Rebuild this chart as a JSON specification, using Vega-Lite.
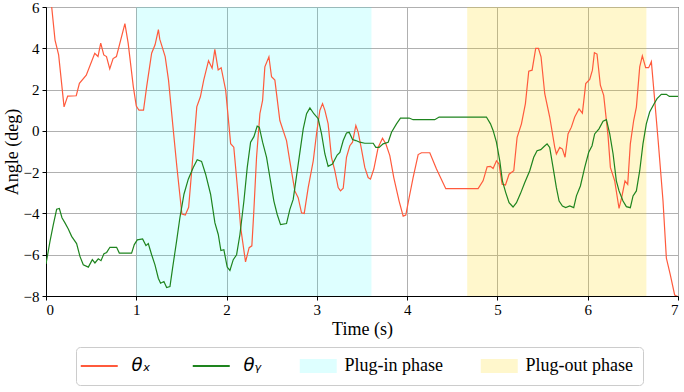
{
  "$schema": "https://vega.github.io/schema/vega-lite/v6.json",
  "width": 632,
  "height": 289,
  "autosize": "none",
  "padding": {"left": 46, "top": 7, "right": 6, "bottom": 96},
  "background": "white",
  "config": {
    "font": "Liberation Serif",
    "view": {"stroke": "black", "strokeWidth": 1},
    "axis": {
      "labelFont": "Liberation Serif", "labelFontSize": 15, "labelColor": "black",
      "titleFont": "Liberation Serif", "titleFontSize": 18, "titleFontWeight": "normal", "titleColor": "black",
      "domainColor": "black", "tickColor": "black", "tickSize": 4, "gridColor": "#b0b0b0", "gridWidth": 1
    }
  },
  "datasets": {
    "angles": [
      {"t":0,"angle":6.6,"series":"θₓ"},{"t":0.063,"angle":6.0,"series":"θₓ"},{"t":0.1,"angle":4.4,"series":"θₓ"},{"t":0.14,"angle":3.68,"series":"θₓ"},{"t":0.2,"angle":1.16,"series":"θₓ"},{"t":0.24,"angle":1.68,"series":"θₓ"},{"t":0.335,"angle":1.7,"series":"θₓ"},{"t":0.37,"angle":2.3,"series":"θₓ"},{"t":0.446,"angle":2.7,"series":"θₓ"},{"t":0.54,"angle":3.76,"series":"θₓ"},{"t":0.576,"angle":3.6,"series":"θₓ"},{"t":0.606,"angle":4.25,"series":"θₓ"},{"t":0.64,"angle":3.68,"series":"θₓ"},{"t":0.67,"angle":3.6,"series":"θₓ"},{"t":0.706,"angle":3.0,"series":"θₓ"},{"t":0.743,"angle":3.5,"series":"θₓ"},{"t":0.78,"angle":3.6,"series":"θₓ"},{"t":0.874,"angle":5.19,"series":"θₓ"},{"t":0.91,"angle":4.25,"series":"θₓ"},{"t":0.967,"angle":2.14,"series":"θₓ"},{"t":1.0,"angle":1.2,"series":"θₓ"},{"t":1.03,"angle":1.0,"series":"θₓ"},{"t":1.08,"angle":1.0,"series":"θₓ"},{"t":1.115,"angle":2.14,"series":"θₓ"},{"t":1.17,"angle":3.76,"series":"θₓ"},{"t":1.208,"angle":4.17,"series":"θₓ"},{"t":1.245,"angle":4.9,"series":"θₓ"},{"t":1.26,"angle":4.44,"series":"θₓ"},{"t":1.32,"angle":3.6,"series":"θₓ"},{"t":1.357,"angle":2.46,"series":"θₓ"},{"t":1.41,"angle":0.03,"series":"θₓ"},{"t":1.45,"angle":-1.76,"series":"θₓ"},{"t":1.505,"angle":-4.03,"series":"θₓ"},{"t":1.543,"angle":-4.08,"series":"θₓ"},{"t":1.58,"angle":-3.7,"series":"θₓ"},{"t":1.617,"angle":-1.76,"series":"θₓ"},{"t":1.67,"angle":1.16,"series":"θₓ"},{"t":1.71,"angle":1.65,"series":"θₓ"},{"t":1.747,"angle":2.46,"series":"θₓ"},{"t":1.8,"angle":3.4,"series":"θₓ"},{"t":1.84,"angle":3.03,"series":"θₓ"},{"t":1.87,"angle":3.95,"series":"θₓ"},{"t":1.907,"angle":2.95,"series":"θₓ"},{"t":1.94,"angle":3.06,"series":"θₓ"},{"t":1.99,"angle":1.97,"series":"θₓ"},{"t":2.045,"angle":-0.62,"series":"θₓ"},{"t":2.08,"angle":-0.79,"series":"θₓ"},{"t":2.12,"angle":-2.73,"series":"θₓ"},{"t":2.156,"angle":-4.68,"series":"θₓ"},{"t":2.21,"angle":-6.35,"series":"θₓ"},{"t":2.25,"angle":-5.66,"series":"θₓ"},{"t":2.28,"angle":-5.57,"series":"θₓ"},{"t":2.3,"angle":-4.05,"series":"θₓ"},{"t":2.332,"angle":-1.28,"series":"θₓ"},{"t":2.369,"angle":0.83,"series":"θₓ"},{"t":2.399,"angle":1.48,"series":"θₓ"},{"t":2.424,"angle":3.1,"series":"θₓ"},{"t":2.469,"angle":3.59,"series":"θₓ"},{"t":2.498,"angle":2.62,"series":"θₓ"},{"t":2.535,"angle":2.46,"series":"θₓ"},{"t":2.59,"angle":0.5,"series":"θₓ"},{"t":2.664,"angle":-0.47,"series":"θₓ"},{"t":2.7,"angle":-1.45,"series":"θₓ"},{"t":2.756,"angle":-2.91,"series":"θₓ"},{"t":2.793,"angle":-3.24,"series":"θₓ"},{"t":2.83,"angle":-3.97,"series":"θₓ"},{"t":2.86,"angle":-4.0,"series":"θₓ"},{"t":2.904,"angle":-2.75,"series":"θₓ"},{"t":2.96,"angle":-1.45,"series":"θₓ"},{"t":2.996,"angle":-0.15,"series":"θₓ"},{"t":3.033,"angle":0.99,"series":"θₓ"},{"t":3.063,"angle":1.32,"series":"θₓ"},{"t":3.089,"angle":0.99,"series":"θₓ"},{"t":3.125,"angle":0.34,"series":"θₓ"},{"t":3.162,"angle":-1.28,"series":"θₓ"},{"t":3.199,"angle":-1.93,"series":"θₓ"},{"t":3.236,"angle":-2.75,"series":"θₓ"},{"t":3.262,"angle":-2.91,"series":"θₓ"},{"t":3.292,"angle":-2.78,"series":"θₓ"},{"t":3.328,"angle":-1.28,"series":"θₓ"},{"t":3.365,"angle":-0.72,"series":"θₓ"},{"t":3.395,"angle":-0.55,"series":"θₓ"},{"t":3.432,"angle":0.26,"series":"θₓ"},{"t":3.458,"angle":-0.07,"series":"θₓ"},{"t":3.494,"angle":-0.88,"series":"θₓ"},{"t":3.531,"angle":-1.77,"series":"θₓ"},{"t":3.568,"angle":-2.26,"series":"θₓ"},{"t":3.594,"angle":-2.34,"series":"θₓ"},{"t":3.631,"angle":-1.85,"series":"θₓ"},{"t":3.679,"angle":-0.8,"series":"θₓ"},{"t":3.727,"angle":-0.36,"series":"θₓ"},{"t":3.764,"angle":-0.63,"series":"θₓ"},{"t":3.808,"angle":-1.2,"series":"θₓ"},{"t":3.852,"angle":-2.26,"series":"θₓ"},{"t":3.911,"angle":-3.4,"series":"θₓ"},{"t":3.956,"angle":-4.13,"series":"θₓ"},{"t":3.985,"angle":-4.08,"series":"θₓ"},{"t":4.022,"angle":-3.24,"series":"θₓ"},{"t":4.066,"angle":-2.26,"series":"θₓ"},{"t":4.122,"angle":-1.15,"series":"θₓ"},{"t":4.159,"angle":-1.06,"series":"θₓ"},{"t":4.251,"angle":-1.06,"series":"θₓ"},{"t":4.325,"angle":-1.85,"series":"θₓ"},{"t":4.428,"angle":-2.8,"series":"θₓ"},{"t":4.786,"angle":-2.8,"series":"θₓ"},{"t":4.841,"angle":-2.42,"series":"θₓ"},{"t":4.886,"angle":-1.74,"series":"θₓ"},{"t":4.923,"angle":-1.72,"series":"θₓ"},{"t":4.952,"angle":-1.82,"series":"θₓ"},{"t":4.989,"angle":-1.45,"series":"θₓ"},{"t":5.018,"angle":-1.61,"series":"θₓ"},{"t":5.052,"angle":-2.59,"series":"θₓ"},{"t":5.089,"angle":-2.62,"series":"θₓ"},{"t":5.129,"angle":-2.1,"series":"θₓ"},{"t":5.181,"angle":-1.93,"series":"θₓ"},{"t":5.218,"angle":-0.31,"series":"θₓ"},{"t":5.266,"angle":0.34,"series":"θₓ"},{"t":5.31,"angle":1.32,"series":"θₓ"},{"t":5.347,"angle":2.89,"series":"θₓ"},{"t":5.384,"angle":2.94,"series":"θₓ"},{"t":5.424,"angle":4.0,"series":"θₓ"},{"t":5.454,"angle":4.0,"series":"θₓ"},{"t":5.483,"angle":3.59,"series":"θₓ"},{"t":5.524,"angle":1.8,"series":"θₓ"},{"t":5.579,"angle":0.67,"series":"θₓ"},{"t":5.635,"angle":-0.8,"series":"θₓ"},{"t":5.653,"angle":-1.12,"series":"θₓ"},{"t":5.69,"angle":-0.8,"series":"θₓ"},{"t":5.72,"angle":-0.88,"series":"θₓ"},{"t":5.749,"angle":-1.28,"series":"θₓ"},{"t":5.782,"angle":-0.15,"series":"θₓ"},{"t":5.819,"angle":0.18,"series":"θₓ"},{"t":5.856,"angle":0.67,"series":"θₓ"},{"t":5.904,"angle":1.07,"series":"θₓ"},{"t":5.941,"angle":0.86,"series":"θₓ"},{"t":5.978,"angle":2.29,"series":"θₓ"},{"t":6.022,"angle":2.49,"series":"θₓ"},{"t":6.052,"angle":2.94,"series":"θₓ"},{"t":6.074,"angle":3.79,"series":"θₓ"},{"t":6.103,"angle":3.72,"series":"θₓ"},{"t":6.14,"angle":2.21,"series":"θₓ"},{"t":6.177,"angle":1.72,"series":"θₓ"},{"t":6.225,"angle":-0.23,"series":"θₓ"},{"t":6.251,"angle":-1.77,"series":"θₓ"},{"t":6.299,"angle":-2.42,"series":"θₓ"},{"t":6.347,"angle":-3.76,"series":"θₓ"},{"t":6.376,"angle":-3.24,"series":"θₓ"},{"t":6.413,"angle":-2.42,"series":"θₓ"},{"t":6.443,"angle":-2.59,"series":"θₓ"},{"t":6.472,"angle":-0.63,"series":"θₓ"},{"t":6.509,"angle":0.5,"series":"θₓ"},{"t":6.539,"angle":1.15,"series":"θₓ"},{"t":6.576,"angle":3.1,"series":"θₓ"},{"t":6.605,"angle":3.63,"series":"θₓ"},{"t":6.642,"angle":3.06,"series":"θₓ"},{"t":6.675,"angle":3.06,"series":"θₓ"},{"t":6.705,"angle":3.35,"series":"θₓ"},{"t":6.742,"angle":1.48,"series":"θₓ"},{"t":6.78,"angle":-0.47,"series":"θₓ"},{"t":6.834,"angle":-3.4,"series":"θₓ"},{"t":6.871,"angle":-6.16,"series":"θₓ"},{"t":6.915,"angle":-6.98,"series":"θₓ"},{"t":6.963,"angle":-7.95,"series":"θₓ"},{"t":7.0,"angle":-8.03,"series":"θₓ"},
      {"t":0,"angle":-6.45,"series":"θᵧ"},{"t":0.044,"angle":-5.35,"series":"θᵧ"},{"t":0.081,"angle":-4.54,"series":"θᵧ"},{"t":0.118,"angle":-3.8,"series":"θᵧ"},{"t":0.148,"angle":-3.76,"series":"θᵧ"},{"t":0.177,"angle":-4.21,"series":"θᵧ"},{"t":0.21,"angle":-4.46,"series":"θᵧ"},{"t":0.247,"angle":-4.75,"series":"θᵧ"},{"t":0.284,"angle":-5.11,"series":"θᵧ"},{"t":0.339,"angle":-5.46,"series":"θᵧ"},{"t":0.376,"angle":-6.08,"series":"θᵧ"},{"t":0.413,"angle":-6.49,"series":"θᵧ"},{"t":0.469,"angle":-6.6,"series":"θᵧ"},{"t":0.513,"angle":-6.24,"series":"θᵧ"},{"t":0.542,"angle":-6.4,"series":"θᵧ"},{"t":0.579,"angle":-6.2,"series":"θᵧ"},{"t":0.609,"angle":-6.29,"series":"θᵧ"},{"t":0.642,"angle":-5.95,"series":"θᵧ"},{"t":0.672,"angle":-5.89,"series":"θᵧ"},{"t":0.708,"angle":-5.64,"series":"θᵧ"},{"t":0.782,"angle":-5.64,"series":"θᵧ"},{"t":0.812,"angle":-5.92,"series":"θᵧ"},{"t":0.948,"angle":-5.92,"series":"θᵧ"},{"t":0.978,"angle":-5.51,"series":"θᵧ"},{"t":1.011,"angle":-5.28,"series":"θᵧ"},{"t":1.07,"angle":-5.24,"series":"θᵧ"},{"t":1.107,"angle":-5.56,"series":"θᵧ"},{"t":1.133,"angle":-5.46,"series":"θᵧ"},{"t":1.17,"angle":-6.0,"series":"θᵧ"},{"t":1.207,"angle":-6.49,"series":"θᵧ"},{"t":1.244,"angle":-7.14,"series":"θᵧ"},{"t":1.269,"angle":-7.38,"series":"θᵧ"},{"t":1.306,"angle":-7.3,"series":"θᵧ"},{"t":1.336,"angle":-7.59,"series":"θᵧ"},{"t":1.373,"angle":-7.54,"series":"θᵧ"},{"t":1.402,"angle":-6.65,"series":"θᵧ"},{"t":1.446,"angle":-5.35,"series":"θᵧ"},{"t":1.483,"angle":-4.21,"series":"θᵧ"},{"t":1.528,"angle":-3.07,"series":"θᵧ"},{"t":1.576,"angle":-2.34,"series":"θᵧ"},{"t":1.631,"angle":-1.77,"series":"θᵧ"},{"t":1.675,"angle":-1.4,"series":"θᵧ"},{"t":1.723,"angle":-1.48,"series":"θᵧ"},{"t":1.768,"angle":-2.1,"series":"θᵧ"},{"t":1.823,"angle":-3.07,"series":"θᵧ"},{"t":1.871,"angle":-4.46,"series":"θᵧ"},{"t":1.908,"angle":-5.02,"series":"θᵧ"},{"t":1.937,"angle":-5.8,"series":"θᵧ"},{"t":1.97,"angle":-5.76,"series":"θᵧ"},{"t":2.007,"angle":-6.6,"series":"θᵧ"},{"t":2.037,"angle":-6.76,"series":"θᵧ"},{"t":2.074,"angle":-6.24,"series":"θᵧ"},{"t":2.111,"angle":-6.0,"series":"θᵧ"},{"t":2.148,"angle":-5.02,"series":"θᵧ"},{"t":2.192,"angle":-3.4,"series":"θᵧ"},{"t":2.229,"angle":-1.77,"series":"θᵧ"},{"t":2.266,"angle":-0.55,"series":"θᵧ"},{"t":2.303,"angle":-0.28,"series":"θᵧ"},{"t":2.339,"angle":0.23,"series":"θᵧ"},{"t":2.362,"angle":0.18,"series":"θᵧ"},{"t":2.399,"angle":-0.55,"series":"θᵧ"},{"t":2.443,"angle":-1.28,"series":"θᵧ"},{"t":2.48,"angle":-2.26,"series":"θᵧ"},{"t":2.524,"angle":-3.4,"series":"θᵧ"},{"t":2.561,"angle":-4.05,"series":"θᵧ"},{"t":2.598,"angle":-4.54,"series":"θᵧ"},{"t":2.664,"angle":-4.49,"series":"θᵧ"},{"t":2.701,"angle":-3.8,"series":"θᵧ"},{"t":2.738,"angle":-3.32,"series":"θᵧ"},{"t":2.775,"angle":-2.18,"series":"θᵧ"},{"t":2.812,"angle":-1.04,"series":"θᵧ"},{"t":2.849,"angle":0.1,"series":"θᵧ"},{"t":2.886,"angle":0.83,"series":"θᵧ"},{"t":2.923,"angle":1.11,"series":"θᵧ"},{"t":2.967,"angle":0.83,"series":"θᵧ"},{"t":3.015,"angle":0.59,"series":"θᵧ"},{"t":3.052,"angle":-0.15,"series":"θᵧ"},{"t":3.089,"angle":-1.12,"series":"θᵧ"},{"t":3.125,"angle":-1.72,"series":"θᵧ"},{"t":3.173,"angle":-1.61,"series":"θᵧ"},{"t":3.225,"angle":-1.17,"series":"θᵧ"},{"t":3.255,"angle":-1.04,"series":"θᵧ"},{"t":3.292,"angle":-0.47,"series":"θᵧ"},{"t":3.328,"angle":-0.1,"series":"θᵧ"},{"t":3.358,"angle":-0.07,"series":"θᵧ"},{"t":3.395,"angle":-0.42,"series":"θᵧ"},{"t":3.432,"angle":-0.47,"series":"θᵧ"},{"t":3.476,"angle":-0.55,"series":"θᵧ"},{"t":3.531,"angle":-0.6,"series":"θᵧ"},{"t":3.624,"angle":-0.6,"series":"θᵧ"},{"t":3.653,"angle":-0.8,"series":"θᵧ"},{"t":3.69,"angle":-0.8,"series":"θᵧ"},{"t":3.734,"angle":-0.63,"series":"θᵧ"},{"t":3.79,"angle":-0.55,"series":"θᵧ"},{"t":3.827,"angle":-0.07,"series":"θᵧ"},{"t":3.882,"angle":0.34,"series":"θᵧ"},{"t":3.926,"angle":0.62,"series":"θᵧ"},{"t":4.022,"angle":0.62,"series":"θᵧ"},{"t":4.066,"angle":0.54,"series":"θᵧ"},{"t":4.306,"angle":0.54,"series":"θᵧ"},{"t":4.354,"angle":0.67,"series":"θᵧ"},{"t":4.878,"angle":0.67,"series":"θᵧ"},{"t":4.923,"angle":0.34,"series":"θᵧ"},{"t":4.952,"angle":0.02,"series":"θᵧ"},{"t":4.989,"angle":-0.55,"series":"θᵧ"},{"t":5.026,"angle":-1.45,"series":"θᵧ"},{"t":5.055,"angle":-2.42,"series":"θᵧ"},{"t":5.092,"angle":-2.99,"series":"θᵧ"},{"t":5.129,"angle":-3.48,"series":"θᵧ"},{"t":5.173,"angle":-3.69,"series":"θᵧ"},{"t":5.211,"angle":-3.48,"series":"θᵧ"},{"t":5.255,"angle":-3.04,"series":"θᵧ"},{"t":5.303,"angle":-2.5,"series":"θᵧ"},{"t":5.358,"angle":-1.93,"series":"θᵧ"},{"t":5.402,"angle":-1.28,"series":"θᵧ"},{"t":5.439,"angle":-0.96,"series":"θᵧ"},{"t":5.48,"angle":-0.91,"series":"θᵧ"},{"t":5.517,"angle":-0.76,"series":"θᵧ"},{"t":5.55,"angle":-0.63,"series":"θᵧ"},{"t":5.579,"angle":-0.8,"series":"θᵧ"},{"t":5.616,"angle":-1.77,"series":"θᵧ"},{"t":5.653,"angle":-2.75,"series":"θᵧ"},{"t":5.683,"angle":-3.4,"series":"θᵧ"},{"t":5.72,"angle":-3.64,"series":"θᵧ"},{"t":5.756,"angle":-3.72,"series":"θᵧ"},{"t":5.801,"angle":-3.64,"series":"θᵧ"},{"t":5.845,"angle":-3.72,"series":"θᵧ"},{"t":5.875,"angle":-3.15,"series":"θᵧ"},{"t":5.919,"angle":-2.67,"series":"θᵧ"},{"t":5.967,"angle":-1.77,"series":"θᵧ"},{"t":6.011,"angle":-1.04,"series":"θᵧ"},{"t":6.048,"angle":-0.72,"series":"θᵧ"},{"t":6.077,"angle":-0.15,"series":"θᵧ"},{"t":6.125,"angle":0.1,"series":"θᵧ"},{"t":6.17,"angle":0.47,"series":"θᵧ"},{"t":6.207,"angle":0.54,"series":"θᵧ"},{"t":6.244,"angle":-0.15,"series":"θᵧ"},{"t":6.281,"angle":-1.12,"series":"θᵧ"},{"t":6.317,"angle":-2.42,"series":"θᵧ"},{"t":6.347,"angle":-2.91,"series":"θᵧ"},{"t":6.391,"angle":-3.4,"series":"θᵧ"},{"t":6.428,"angle":-3.67,"series":"θᵧ"},{"t":6.472,"angle":-3.72,"series":"θᵧ"},{"t":6.502,"angle":-3.15,"series":"θᵧ"},{"t":6.539,"angle":-2.91,"series":"θᵧ"},{"t":6.576,"angle":-1.93,"series":"θᵧ"},{"t":6.612,"angle":-0.63,"series":"θᵧ"},{"t":6.649,"angle":0.34,"series":"θᵧ"},{"t":6.686,"angle":0.91,"series":"θᵧ"},{"t":6.731,"angle":1.28,"series":"θᵧ"},{"t":6.768,"angle":1.56,"series":"θᵧ"},{"t":6.815,"angle":1.77,"series":"θᵧ"},{"t":6.871,"angle":1.77,"series":"θᵧ"},{"t":6.904,"angle":1.67,"series":"θᵧ"},{"t":7.0,"angle":1.67,"series":"θᵧ"}
    ],
    "phases": [
      {"start": 1.0, "end": 3.605, "series": "Plug-in phase"},
      {"start": 4.665, "end": 6.65, "series": "Plug-out phase"}
    ]
  },
  "layer": [
    {
      "data": {"name": "phases"},
      "mark": {"type": "rect"},
      "encoding": {
        "x": {"field": "start", "type": "quantitative"},
        "x2": {"field": "end"},
        "color": {"field": "series", "type": "nominal"},
        "opacity": {"field": "series", "type": "nominal", "scale": {"domain": ["Plug-in phase", "Plug-out phase"], "range": [0.13, 0.2]}, "legend": null}
      }
    },
    {
      "data": {"name": "angles"},
      "mark": {"type": "line", "strokeWidth": 1.2, "clip": true},
      "encoding": {
        "x": {"field": "t", "type": "quantitative", "scale": {"domain": [0, 7], "nice": false},
              "axis": {"values": [0,1,2,3,4,5,6,7], "format": "d", "title": "Time (s)", "titlePadding": 3, "labelPadding": 2,
                       "labelFont": "Liberation Serif", "labelFontSize": 15,
                       "encode": {"labels": {"update": {"font": {"value": "Liberation Serif"}}}}}},
        "y": {"field": "angle", "type": "quantitative", "scale": {"domain": [-8, 6], "nice": false},
              "axis": {"values": [-8,-6,-4,-2,0,2,4,6], "format": "d", "title": "Angle (deg)", "titlePadding": 2, "labelPadding": 3,
                       "labelFont": "Liberation Serif", "labelFontSize": 15,
                       "encode": {"labels": {"update": {"font": {"value": "Liberation Serif"}}}}}},
        "color": {
          "field": "series", "type": "nominal",
          "scale": {"domain": ["θₓ", "θᵧ", "Plug-in phase", "Plug-out phase"], "range": ["#ff5a3c", "#1e841e", "cyan", "gold"]},
          "legend": {
            "orient": "none", "legendX": 30, "legendY": 340, "direction": "horizontal", "title": null,
            "strokeColor": "#cccccc", "cornerRadius": 4, "fillColor": "white", "padding": 10,
            "symbolSize": 342, "labelOffset": 27.5, "columnPadding": 37,
            "labelFont": "Liberation Serif", "labelFontSize": 18, "labelColor": "black", "symbolStrokeWidth": 2,
            "encode": {
              "symbols": {"update": {
                "shape": {"signal": "indexof(['Plug-in phase','Plug-out phase'], datum.value) >= 0 ? 'M-1.54,-0.76H2.46V0.76H-1.54Z' : 'M-1.54,0H2.46'"},
                "fill": {"signal": "indexof(['Plug-in phase','Plug-out phase'], datum.value) >= 0 ? scale('color', datum.value) : 'transparent'"},
                "stroke": {"signal": "indexof(['Plug-in phase','Plug-out phase'], datum.value) >= 0 ? 'transparent' : scale('color', datum.value)"},
                "fillOpacity": {"signal": "datum.value == 'Plug-in phase' ? 0.13 : (datum.value == 'Plug-out phase' ? 0.2 : 1)"},
                "opacity": {"value": 1},
                "strokeWidth": {"signal": "indexof(['Plug-in phase','Plug-out phase'], datum.value) >= 0 ? 0 : 2"}
              }},
              "labels": {"update": {
                "font": {"signal": "indexof(['Plug-in phase','Plug-out phase'], datum.value) >= 0 ? 'Liberation Serif' : 'DejaVu Sans'"},
                "fontStyle": {"signal": "indexof(['Plug-in phase','Plug-out phase'], datum.value) >= 0 ? 'normal' : 'italic'"},
                "fontSize": {"value": 18},
                "dx": {"signal": "indexof(['Plug-in phase','Plug-out phase'], datum.value) >= 0 ? -6 : 0"}
              }}
            }
          }
        }
      }
    }
  ]
}
